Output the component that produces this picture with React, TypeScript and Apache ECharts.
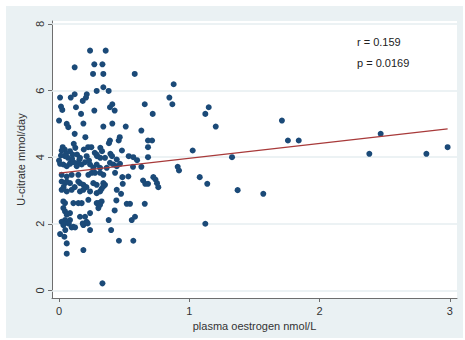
import React, { useEffect, useRef } from "react";
import * as echarts from "echarts";

// Tick values
const xTicks = [0, 1, 2, 3];
const yTicks = [0, 2, 4, 6, 8];

// Observations [plasma oestrogen nmol/L, U-citrate mmol/day]
const upperPoints = [
  [0.238, 7.2], [0.358, 7.2], [0.12, 6.7], [0.271, 6.79], [0.333, 6.79], [0.261, 6.5], [0.34, 6.5],
  [0.581, 6.5], [0.88, 6.19], [0.34, 6.1], [0.381, 5.99], [0.289, 5.99], [0.008, 5.79], [0.09, 5.79],
  [0.12, 5.89], [0.213, 5.89], [0.207, 5.79], [0.182, 5.69], [0.847, 5.79], [0.87, 5.59], [0.015, 5.52],
  [0.025, 5.42], [0.13, 5.5], [0.169, 5.3], [0.271, 5.4], [0.391, 5.5], [0.409, 5.59], [0.427, 5.4],
  [0.658, 5.59], [0.719, 5.3], [1.123, 5.3], [1.149, 5.5], [1.711, 5.1], [0.0, 5.1], [0.059, 5.0],
  [0.071, 4.9], [0.187, 5.01], [0.34, 4.92], [0.409, 5.01], [0.512, 4.92], [0.632, 4.8], [1.203, 4.92],
  [0.12, 4.7], [0.202, 4.6], [0.391, 4.5], [0.383, 4.42], [0.466, 4.6], [0.458, 4.5], [0.683, 4.5],
  [0.714, 4.5], [1.757, 4.5], [1.84, 4.5], [2.469, 4.7],
];
const densePoints = [
  [0.028, 4.3], [0.044, 4.23], [0.054, 4.1], [0.069, 3.98], [0.087, 3.83], [0.113, 4.4], [0.125, 4.28],
  [0.138, 4.08], [0.156, 3.93], [0.146, 3.83], [0.19, 4.23], [0.223, 4.3], [0.248, 4.3], [0.274, 4.13],
  [0.292, 4.03], [0.317, 4.28], [0.33, 4.18], [0.317, 3.98], [0.394, 4.1], [0.407, 4.03], [0.483, 4.2],
  [0.535, 4.03], [0.599, 3.91], [0.57, 4.0], [0.683, 4.0], [0.683, 4.3],
  [0.008, 3.8], [0.033, 3.78], [0.059, 3.73], [0.084, 3.8], [0.11, 3.85], [0.136, 3.73], [0.174, 3.78],
  [0.2, 3.85], [0.238, 3.78], [0.263, 3.68], [0.289, 3.78], [0.315, 3.68], [0.366, 3.68], [0.391, 3.83],
  [0.417, 3.78], [0.443, 3.73], [0.468, 3.8], [0.568, 3.71], [0.632, 3.71],
  [0.02, 4.2], [0.046, 4.03], [0.084, 4.18], [0.105, 4.08], [0.161, 3.98], [0.212, 4.03], [0.289, 4.08],
  [0.353, 3.98], [0.443, 3.93], [0.0, 3.9], [0.015, 4.05], [0.23, 3.9], [0.1, 3.95],
];
const middlePoints = [
  [0.02, 3.47], [0.059, 3.42], [0.097, 3.47], [0.148, 3.47], [0.225, 3.47], [0.251, 3.53], [0.276, 3.53],
  [0.315, 3.53], [0.34, 3.47], [0.43, 3.53], [0.532, 3.42], [0.486, 3.4],
  [0.02, 3.27], [0.046, 3.22], [0.059, 3.27], [0.084, 3.22], [0.148, 3.27], [0.161, 3.22], [0.187, 3.17],
  [0.263, 3.22], [0.289, 3.17], [0.34, 3.22], [0.353, 3.17], [0.489, 3.2], [0.645, 3.3], [0.662, 3.2],
  [0.683, 3.2], [0.724, 3.4], [0.74, 3.33], [0.752, 3.22], [0.762, 3.1],
  [0.02, 3.02], [0.059, 2.97], [0.097, 3.02], [0.161, 2.97], [0.187, 3.02], [0.238, 2.97], [0.289, 2.92],
  [0.315, 2.97], [0.327, 3.05], [0.34, 3.12], [0.443, 3.02], [0.476, 2.9], [0.035, 3.1], [0.12, 3.1],
  [0.21, 3.1],
];
const lowerPoints = [
  [0.033, 2.67], [0.046, 2.62], [0.11, 2.62], [0.148, 2.62], [0.174, 2.62], [0.225, 2.72], [0.289, 2.62],
  [0.302, 2.62], [0.327, 2.67], [0.44, 2.7], [0.52, 2.6], [0.545, 2.6], [0.658, 2.6],
  [0.033, 2.47], [0.046, 2.37], [0.059, 2.27], [0.084, 2.32], [0.161, 2.21], [0.2, 2.21], [0.238, 2.32],
  [0.302, 2.47], [0.315, 2.57], [0.427, 2.4], [0.583, 2.21], [0.558, 2.11],
  [0.02, 2.06], [0.033, 1.96], [0.046, 2.11], [0.059, 2.06], [0.084, 2.11], [0.11, 1.91], [0.187, 1.96],
  [0.212, 2.06], [0.381, 2.11], [0.04, 2.0], [0.075, 2.0], [0.097, 1.89], [0.123, 1.89], [0.182, 2.01],
  [0.22, 2.01], [0.238, 1.81], [0.4, 1.81], [0.048, 1.81],
  [0.008, 1.69], [0.041, 1.61], [0.46, 1.49], [0.57, 1.49], [0.059, 1.41], [0.059, 1.1], [0.187, 1.21],
  [0.333, 0.21],
];
const rightPoints = [
  [2.382, 4.1], [2.82, 4.1], [2.983, 4.3], [1.026, 4.2], [1.328, 4.0], [0.911, 3.71], [0.921, 3.6],
  [1.08, 3.4], [1.138, 3.2], [1.371, 3.01], [1.568, 2.9], [1.123, 2.0],
];

// Fitted regression line
const fitX = [0, 2.983];
const fitY = [3.52, 4.85];

const statLines = ["r = 0.159", "p = 0.0169"];

export default function App() {
  const ref = useRef<HTMLDivElement>(null);
  useEffect(() => {
    if (!ref.current) return;
    const chart = echarts.init(ref.current, null, { renderer: "svg" });
    const font = "'Liberation Sans', Arial, sans-serif";
    const allPoints = [...upperPoints, ...densePoints, ...middlePoints, ...lowerPoints, ...rightPoints];
    const axisColor = "#6e6e6e";
    chart.setOption({
      animation: false,
      backgroundColor: "transparent",
      textStyle: { fontFamily: font },
      grid: {
        left: 52,
        right: 8,
        top: 21,
        bottom: 42,
        show: true,
        backgroundColor: "#ffffff",
        borderWidth: 0,
      },
      graphic: statLines.map((t, i) => ({
        type: "text",
        left: 357,
        top: 36 + i * 21,
        style: { text: t, fill: "#222", font: `11px ${font}` },
      })),
      xAxis: {
        type: "value",
        min: -0.054,
        max: 3.055,
        name: "plasma oestrogen nmol/L",
        nameLocation: "middle",
        nameGap: 22,
        nameTextStyle: { color: "#333", fontSize: 11, fontFamily: font },
        axisLine: { show: true, onZero: false, lineStyle: { color: axisColor, width: 1 } },
        axisTick: { show: true, customValues: xTicks, length: 4, lineStyle: { color: axisColor } },
        axisLabel: { customValues: xTicks, color: "#333", fontSize: 11, margin: 7, fontFamily: font },
        splitLine: { show: false },
      },
      yAxis: {
        type: "value",
        min: -0.23,
        max: 8.09,
        name: "U-citrate mmol/day",
        nameLocation: "middle",
        nameRotate: 90,
        nameGap: 25,
        nameTextStyle: { color: "#333", fontSize: 11, fontFamily: font },
        axisLine: { show: true, onZero: false, lineStyle: { color: axisColor, width: 1 } },
        axisTick: { show: true, customValues: yTicks, length: 4, lineStyle: { color: axisColor } },
        axisLabel: { customValues: yTicks, color: "#333", fontSize: 11, margin: 7, rotate: 90, fontFamily: font },
        splitLine: { show: false },
      },
      series: [
        {
          type: "line",
          data: [],
          z: 1,
          silent: true,
          markLine: {
            silent: true,
            z: 1,
            symbol: "none",
            label: { show: false },
            lineStyle: { color: "#e6eef0", width: 1.5, type: "solid" },
            data: yTicks.map((v) => ({ yAxis: v })),
          },
        },
        {
          type: "scatter",
          data: allPoints,
          symbolSize: 6,
          itemStyle: { color: "#1b4a78", opacity: 1 },
          z: 3,
        },
        {
          type: "line",
          data: fitX.map((x, i) => [x, fitY[i]]),
          showSymbol: false,
          symbol: "none",
          lineStyle: { color: "#a83a3a", width: 1.2 },
          z: 4,
        },
      ],
    });
    return () => chart.dispose();
  }, []);
  return (
    <div style={{ position: "fixed", left: 0, top: 0, width: 465, height: 340, background: "#fff" }}>
      <div
        style={{ position: "absolute", left: 6, top: 6, width: 457, height: 332, background: "#eaf1f3" }}
      />
      <div ref={ref} style={{ position: "absolute", left: 0, top: 0, width: 465, height: 340 }} />
    </div>
  );
}
